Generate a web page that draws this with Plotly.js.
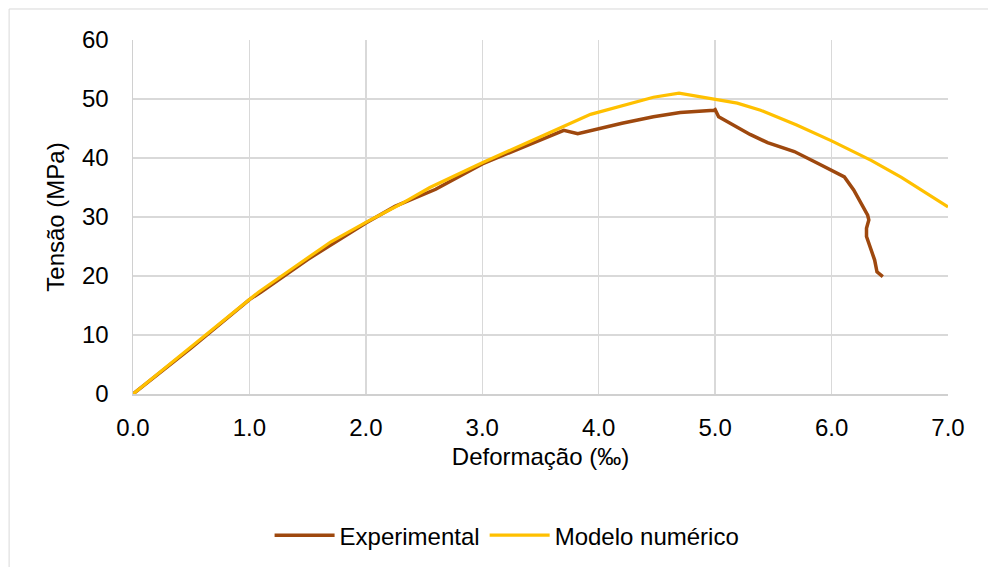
<!DOCTYPE html>
<html>
<head>
<meta charset="utf-8">
<script src="https://cdn.plot.ly/plotly-3.0.1.min.js"></script>
<style>html,body{margin:0;padding:0;background:#fff;}#chart{width:988px;height:567px;}</style>
</head>
<body>
<div id="chart"></div>
<script>
// Experimental curve: strain (‰) and stress (MPa)
const expStrain = [0, 0.5, 1.0, 1.1, 1.5, 2.0, 2.25, 2.6, 3.0, 3.4, 3.70, 3.82, 3.90, 4.2, 4.47, 4.70, 4.99, 5.00, 5.03, 5.16, 5.30, 5.45, 5.68, 5.88, 6.05, 6.11, 6.19, 6.25, 6.31, 6.32, 6.30, 6.30, 6.34, 6.37, 6.39, 6.44];
const expStress = [0, 7.8, 16.0, 17.3, 22.8, 29.0, 31.8, 34.7, 39.0, 42.3, 44.7, 44.1, 44.5, 45.9, 47.0, 47.7, 48.1, 48.2, 47.0, 45.6, 44.0, 42.6, 41.1, 39.1, 37.5, 36.8, 34.6, 32.3, 30.3, 29.5, 28.1, 26.7, 24.4, 22.7, 20.7, 19.9];
// Numerical model curve
const modStrain = [0, 1.08, 1.4, 1.7, 2.0, 2.3, 2.55, 3.0, 3.5, 3.93, 4.47, 4.69, 5.19, 5.39, 5.7, 6.0, 6.34, 6.6, 7.0];
const modStress = [0, 17.3, 21.7, 25.8, 29.1, 32.2, 35.0, 39.2, 43.6, 47.4, 50.3, 51.0, 49.3, 48.1, 45.6, 42.9, 39.6, 36.7, 31.7];
const xTicks = [0, 1, 2, 3, 4, 5, 6, 7];
const xTickLabels = ["0.0", "1.0", "2.0", "3.0", "4.0", "5.0", "6.0", "7.0"];
const yTicks = [0, 10, 20, 30, 40, 50, 60];

const font = {family: "Liberation Sans, Arial, sans-serif", size: 24, color: "#000"};
const traces = [
  {x: expStrain, y: expStress, name: "Experimental", mode: "lines",
   line: {color: "#9E480E", width: 3.5}},
  {x: modStrain, y: modStress, name: "Modelo numérico", mode: "lines",
   line: {color: "#FFC000", width: 3.2}}
];
const layout = {
  width: 988, height: 567,
  margin: {l: 133, r: 40, t: 40, b: 173, autoexpand: false},
  paper_bgcolor: "#fff", plot_bgcolor: "#fff",
  font: font,
  showlegend: true,
  legend: {orientation: "h", x: 0.459, xanchor: "center", y: -0.40, yanchor: "middle",
           font: font, itemwidth: 60, traceorder: "normal"},
  xaxis: {range: [0, 7], tickvals: xTicks, ticktext: xTickLabels, automargin: false,
          showgrid: true, gridcolor: "#D9D9D9", gridwidth: 1.5,
          showline: true, linecolor: "#D0D0D0", linewidth: 1.5, zeroline: false,
          ticks: "", ticklabelstandoff: 12, tickfont: font, mirror: false,
          title: {text: "Deformação (‰)", font: font, standoff: 8}},
  yaxis: {range: [0, 60], tickvals: yTicks, automargin: false,
          showgrid: true, gridcolor: "#D9D9D9", gridwidth: 1.5,
          showline: true, linecolor: "#D0D0D0", linewidth: 1.5, zeroline: false,
          ticks: "", ticklabelstandoff: 18, tickfont: font,
          title: {text: "Tensão (MPa)", font: font, standoff: 10}},
  shapes: [{type: "rect", xref: "paper", yref: "paper",
            x0: -0.152, x1: 1.2, y0: -0.7, y1: 1.0876,
            line: {color: "#D9D9D9", width: 1}, fillcolor: "rgba(0,0,0,0)", layer: "below"}]
};
Plotly.newPlot("chart", traces, layout, {displayModeBar: false, staticPlot: true});
</script>
</body>
</html>
